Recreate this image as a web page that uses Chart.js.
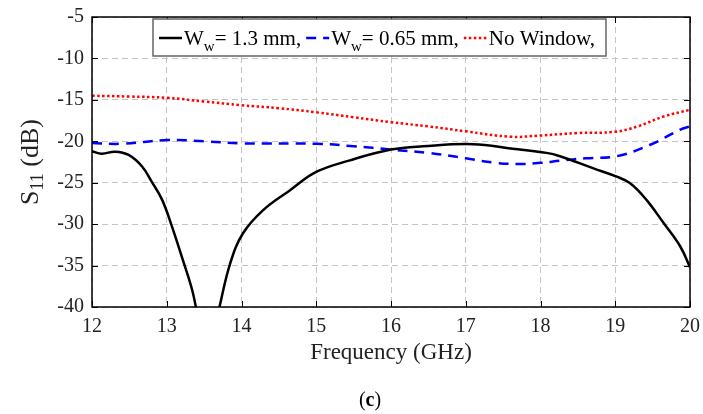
<!DOCTYPE html>
<html>
<head>
<meta charset="utf-8">
<script src="https://cdn.jsdelivr.net/npm/chart.js@4.4.1/dist/chart.umd.min.js"></script>
<style>
  html, body { margin: 0; padding: 0; background: #fff; }
  #wrap { width: 703px; height: 414px; }
</style>
</head>
<body>
<div id="wrap"><canvas id="chart" width="703" height="414"></canvas></div>
<script>
// frequency ticks (GHz) and S11 ticks (dB)
const xTicks = [12, 13, 14, 15, 16, 17, 18, 19, 20];
const yTicks = [-40, -35, -30, -25, -20, -15, -10, -5];

// Ww = 1.3 mm
const freqBlack = [12, 12.13, 12.31, 12.49, 12.67, 12.8, 12.94, 13.07, 13.2, 13.34, 13.55, 13.7, 13.85, 14.02, 14.29, 14.65, 15.0, 15.45, 16.0, 16.43, 17.1, 17.63, 18.08, 18.26, 18.71, 19.02, 19.2, 19.42, 19.65, 19.87, 20];
const s11Black = [-21.2, -21.5, -21.25, -21.65, -23.05, -24.9, -27.1, -30.3, -33.9, -37.95, -46, -40.2, -34.7, -31.1, -28.3, -25.9, -23.7, -22.3, -21.0, -20.6, -20.35, -20.9, -21.4, -21.8, -23.27, -24.27, -25.07, -27.1, -29.9, -32.7, -35.2];

// Ww = 0.65 mm
const freqBlue = [12, 12.4, 13.0, 13.5, 14.0, 15.0, 15.5, 16.0, 16.5, 17.0, 17.4, 17.75, 18.0, 18.26, 18.6, 19.02, 19.46, 19.87, 20];
const s11Blue = [-20.2, -20.3, -19.85, -20.0, -20.25, -20.3, -20.6, -21.0, -21.4, -22.05, -22.6, -22.75, -22.6, -22.35, -22.05, -21.8, -20.45, -18.6, -18.2];

// no window
const freqRed = [12, 12.5, 13, 13.5, 14, 14.5, 15, 15.5, 16, 16.5, 17, 17.6, 18, 18.5, 19, 19.3, 19.65, 20];
const s11Red = [-14.5, -14.6, -14.75, -15.2, -15.65, -16.0, -16.5, -17.1, -17.7, -18.2, -18.8, -19.45, -19.3, -19.0, -18.85, -18.2, -17.0, -16.2];

const toPoints = (xs, ys) => xs.map((x, i) => ({ x, y: ys[i] }));

const SERIF = '"Liberation Serif", "Times New Roman", serif';

// legend with subscripts, drawn in a box like the MATLAB one
const legendPlugin = {
  id: 'boxLegend',
  afterDraw(chart) {
    const ctx = chart.ctx;
    ctx.save();
    ctx.fillStyle = '#fff';
    ctx.fillRect(153, 19, 453, 37);
    ctx.strokeStyle = '#666';
    ctx.lineWidth = 1.5;
    ctx.strokeRect(153, 19, 453, 37);

    const labels = [
      { main: 'W', sub: 'w', rest: '= 1.3 mm,' },
      { main: 'W', sub: 'w', rest: '= 0.65 mm,' },
      { main: 'No Window,', sub: '', rest: '' },
    ];
    let x = 159;
    const y = 38;
    chart.data.datasets.forEach((ds, i) => {
      ctx.save();
      ctx.strokeStyle = ds.borderColor;
      ctx.lineWidth = ds.borderWidth;
      ctx.setLineDash(ds.borderDash || []);
      ctx.beginPath();
      ctx.moveTo(x, y);
      ctx.lineTo(x + 23, y);
      ctx.stroke();
      ctx.restore();
      x += 25;
      ctx.fillStyle = '#000';
      ctx.textBaseline = 'alphabetic';
      ctx.font = '21px ' + SERIF;
      ctx.fillText(labels[i].main, x, y + 7);
      x += ctx.measureText(labels[i].main).width;
      if (labels[i].sub) {
        ctx.font = '15px ' + SERIF;
        ctx.fillText(labels[i].sub, x, y + 13);
        x += ctx.measureText(labels[i].sub).width;
        ctx.font = '21px ' + SERIF;
        ctx.fillText(labels[i].rest, x, y + 7);
        x += ctx.measureText(labels[i].rest).width;
      }
      x += 5;
    });
    ctx.restore();
  }
};

// frame, inner tick marks, axis titles and panel label
const framePlugin = {
  id: 'frame',
  afterDatasetsDraw(chart) {
    const { ctx, chartArea: a, scales } = chart;
    ctx.save();
    ctx.strokeStyle = '#000';
    ctx.lineWidth = 1;
    ctx.beginPath();
    scales.x.ticks.forEach(t => {
      const px = Math.round(scales.x.getPixelForValue(t.value)) + 0.5;
      ctx.moveTo(px, a.bottom); ctx.lineTo(px, a.bottom - 6);
      ctx.moveTo(px, a.top); ctx.lineTo(px, a.top + 6);
    });
    scales.y.ticks.forEach(t => {
      const py = Math.round(scales.y.getPixelForValue(t.value)) + 0.5;
      ctx.moveTo(a.left, py); ctx.lineTo(a.left + 6, py);
      ctx.moveTo(a.right, py); ctx.lineTo(a.right - 6, py);
    });
    ctx.stroke();
    ctx.lineWidth = 1.5;
    ctx.strokeRect(a.left, a.top, a.right - a.left, a.bottom - a.top);
    ctx.restore();
  },
  afterDraw(chart) {
    const ctx = chart.ctx;
    ctx.save();
    ctx.fillStyle = '#222';
    // x title
    ctx.font = '23px ' + SERIF;
    ctx.textAlign = 'center';
    ctx.textBaseline = 'middle';
    ctx.fillText('Frequency (GHz)', 391, 353);

    // y title, rotated, S with subscript 11
    ctx.translate(30, 162);
    ctx.rotate(-Math.PI / 2);
    ctx.textAlign = 'left';
    ctx.textBaseline = 'alphabetic';
    const big = '26px ' + SERIF, small = '18px ' + SERIF;
    ctx.font = big;
    const wS = ctx.measureText('S').width;
    const wRest = ctx.measureText(' (dB)').width;
    ctx.font = small;
    const wSub = ctx.measureText('11').width;
    let x0 = -(wS + wSub + wRest) / 2;
    ctx.font = big;
    ctx.fillText('S', x0, 8);
    ctx.font = small;
    ctx.fillText('11', x0 + wS, 13);
    ctx.font = big;
    ctx.fillText(' (dB)', x0 + wS + wSub, 8);
    ctx.restore();

    // panel label (c)
    ctx.save();
    ctx.fillStyle = '#000';
    ctx.textBaseline = 'middle';
    ctx.font = '20px ' + SERIF;
    const wp = ctx.measureText('(').width;
    ctx.font = 'bold 20px ' + SERIF;
    const wc = ctx.measureText('c').width;
    let cx = 370 - (2 * wp + wc) / 2;
    ctx.font = '20px ' + SERIF;
    ctx.fillText('(', cx, 401);
    ctx.font = 'bold 20px ' + SERIF;
    ctx.fillText('c', cx + wp, 401);
    ctx.font = '20px ' + SERIF;
    ctx.fillText(')', cx + wp + wc, 401);
    ctx.restore();
  }
};

const gridStyle = {
  color: '#c4c4c4',
  lineWidth: 1,
  drawTicks: false,
};

new Chart(document.getElementById('chart'), {
  type: 'line',
  data: {
    datasets: [
      {
        label: 'Ww = 1.3 mm',
        data: toPoints(freqBlack, s11Black),
        borderColor: '#000',
        borderWidth: 2.5,
        borderDash: [],
      },
      {
        label: 'Ww = 0.65 mm',
        data: toPoints(freqBlue, s11Blue),
        borderColor: '#0000ff',
        borderWidth: 2.5,
        borderDash: [10, 7],
      },
      {
        label: 'No Window',
        data: toPoints(freqRed, s11Red),
        borderColor: '#ff0000',
        borderWidth: 2.5,
        borderDash: [2.5, 2.5],
      },
    ].map(ds => Object.assign(ds, {
      pointRadius: 0,
      fill: false,
      tension: 0.4,
      clip: 0,
    }))
  },
  options: {
    responsive: false,
    animation: false,
    layout: { padding: { left: 0, right: 13, top: 17, bottom: 67 } },
    plugins: {
      legend: { display: false },
      tooltip: { enabled: false },
    },
    scales: {
      x: {
        type: 'linear',
        min: 12,
        max: 20,
        afterBuildTicks: s => { s.ticks = xTicks.map(v => ({ value: v })); },
        afterFit: s => { s.height = 40; s.paddingLeft = 0; s.paddingRight = 0; },
        grid: Object.assign({}, gridStyle),
        border: { display: false, dash: [6, 4] },
        ticks: {
          color: '#222',
          font: { family: SERIF, size: 20 },
          padding: 8,
          maxRotation: 0,
        },
      },
      y: {
        min: -40,
        max: -5,
        afterBuildTicks: s => { s.ticks = yTicks.map(v => ({ value: v })); },
        afterFit: s => { s.width = 92; s.paddingTop = 0; s.paddingBottom = 0; },
        grid: Object.assign({}, gridStyle),
        border: { display: false, dash: [6, 4] },
        ticks: {
          color: '#222',
          font: { family: SERIF, size: 20 },
          padding: 8,
        },
      },
    },
  },
  plugins: [framePlugin, legendPlugin],
});
</script>
</body>
</html>
